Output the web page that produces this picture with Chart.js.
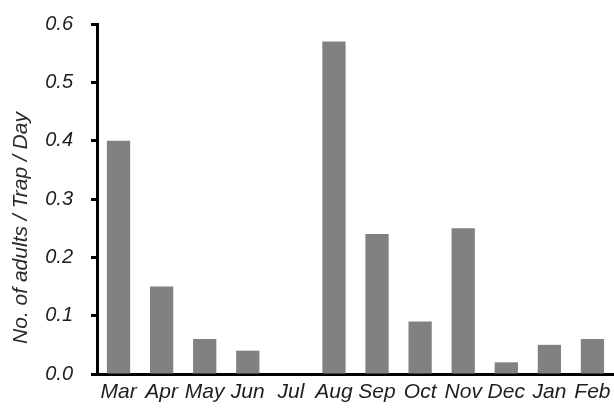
<!DOCTYPE html>
<html>
<head>
<meta charset="utf-8">
<script src="https://cdn.jsdelivr.net/npm/chart.js@4/dist/chart.umd.min.js"></script>
<style>
  html, body { margin: 0; padding: 0; background: #fff; }
  #wrap { width: 614px; height: 409px; }
</style>
</head>
<body>
<div id="wrap"><canvas id="c" width="614" height="409"></canvas></div>
<script>
// Monthly trap catches, March through February
const months = ['Mar', 'Apr', 'May', 'Jun', 'Jul', 'Aug', 'Sep', 'Oct', 'Nov', 'Dec', 'Jan', 'Feb'];
const adultsPerTrapDay = [0.40, 0.15, 0.06, 0.04, 0, 0.57, 0.24, 0.09, 0.25, 0.02, 0.05, 0.06];
const yAxisTitle = 'No. of adults / Trap / Day';

const FONT = '"Liberation Sans", Arial, sans-serif';
const INK = '#1e1e1e';

// Rotated y-axis title, drawn beside the tick labels
const yTitlePlugin = {
  id: 'yTitle',
  afterDraw(chart) {
    const ctx = chart.ctx;
    ctx.save();
    ctx.translate(21, 228);
    ctx.rotate(-Math.PI / 2);
    ctx.font = 'italic 21px ' + FONT;
    ctx.fillStyle = '#2a2a2a';
    ctx.textAlign = 'center';
    ctx.textBaseline = 'middle';
    ctx.fillText(yAxisTitle, 0, 0);
    ctx.restore();
  }
};

new Chart(document.getElementById('c'), {
  type: 'bar',
  data: {
    labels: months,
    datasets: [{
      data: adultsPerTrapDay,
      backgroundColor: '#818181',
      borderWidth: 0,
      categoryPercentage: 1,
      barPercentage: 0.54
    }]
  },
  options: {
    responsive: false,
    animation: false,
    layout: { padding: { top: 24, right: 0, left: 0, bottom: 0 } },
    plugins: { legend: { display: false }, tooltip: { enabled: false } },
    scales: {
      x: {
        grid: { display: false, drawTicks: false },
        border: { display: true, color: '#000', width: 3 },
        ticks: {
          color: INK,
          padding: 6,
          font: { family: FONT, size: 21, style: 'italic' },
          maxRotation: 0,
          autoSkip: false
        },
        afterFit(scale) {
          scale.height = 35;
          scale.paddingLeft = 0;
          scale.paddingRight = 0;
        }
      },
      y: {
        min: 0,
        max: 0.6,
        grid: { display: true, drawOnChartArea: false, drawTicks: true, tickLength: 6, tickWidth: 3, tickColor: '#000' },
        border: { display: true, color: '#000', width: 3 },
        ticks: {
          stepSize: 0.1,
          color: INK,
          padding: 18,
          font: { family: FONT, size: 20, style: 'italic' },
          callback: v => Number(v).toFixed(1)
        },
        afterFit(scale) {
          scale.width = 97;
          scale.paddingTop = 0;
          scale.paddingBottom = 0;
        }
      }
    }
  },
  plugins: [yTitlePlugin]
});
</script>
</body>
</html>
